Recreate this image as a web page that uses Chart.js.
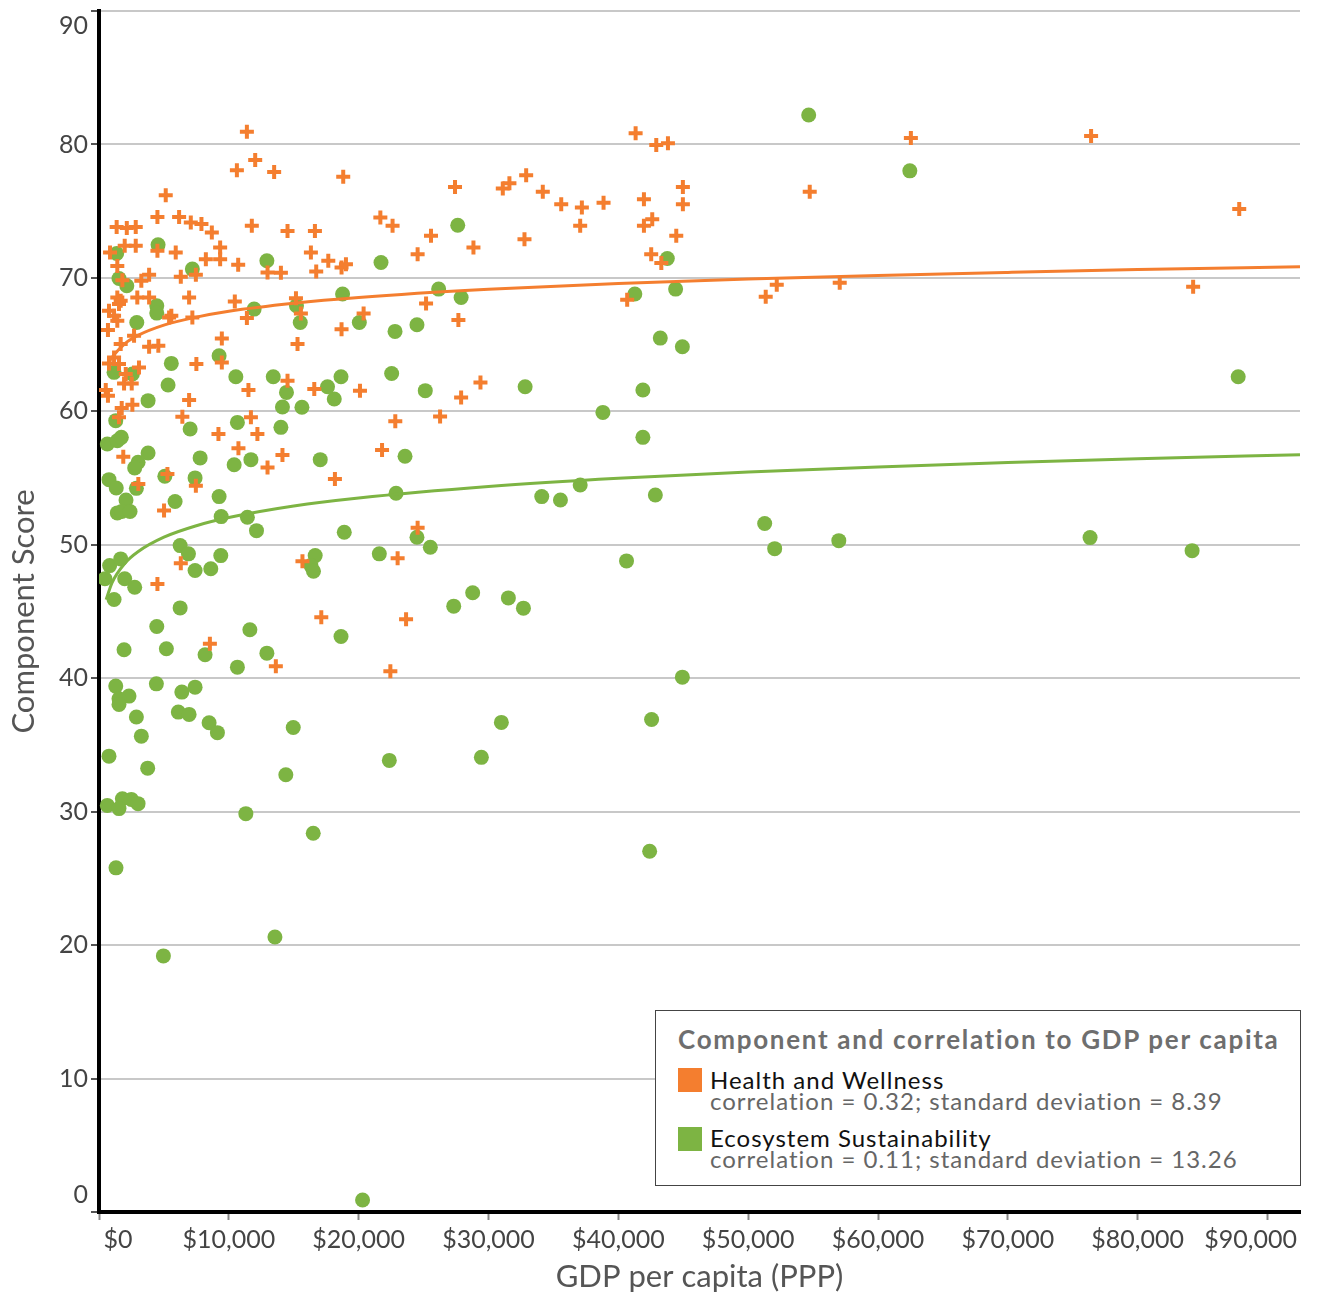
<!DOCTYPE html>
<html>
<head>
<meta charset="utf-8">
<script src="https://cdn.jsdelivr.net/npm/chart.js@4.4.1/dist/chart.umd.min.js"></script>
<style>
html,body{margin:0;padding:0;background:#fff;}
#wrap{position:relative;width:1317px;height:1296px;}
#legend{position:absolute;left:655px;top:1010px;width:646px;height:176px;border:1px solid #444;box-sizing:border-box;background:#fff;font-family:Lato,sans-serif;}
#legend div{position:absolute;white-space:nowrap;}
.lt{left:22px;top:13px;font-size:26px;font-weight:bold;color:#6e6e6e;line-height:30px;letter-spacing:1.7px;}
.sw{left:22px;width:24px;height:24px;}
.nm{left:54px;font-size:24px;color:#111;line-height:24px;letter-spacing:1px;}
.sb{left:54px;font-size:24px;color:#666;line-height:24px;letter-spacing:1px;}
</style>
</head>
<body>
<div id="wrap">
<canvas id="c" width="1317" height="1296"></canvas>
<div id="legend">
  <div class="lt">Component and correlation to GDP per capita</div>
  <div class="sw" style="top:57px;background:#F47E2F"></div>
  <div class="nm" style="top:57px">Health and Wellness</div>
  <div class="sb" style="top:78px">correlation = 0.32; standard deviation = 8.39</div>
  <div class="sw" style="top:116px;background:#7DB443"></div>
  <div class="nm" style="top:115px">Ecosystem Sustainability</div>
  <div class="sb" style="top:136px">correlation = 0.11; standard deviation = 13.26</div>
</div>
</div>
<script>
// ---- data (GDP per capita in $, component score) ----
const healthX = [11390,41330,42920,43820,62530,76410,12030,10620,13490,18810,32900,27420,31100,31610,34180,44970,54740,5140,35600,37190,38860,44970,87820,1360,2140,2830,4500,6170,7070,7890,8690,11770,14520,16630,21670,22610,41970,41970,42610,37060,32770,44460,42530,43310,25570,24540,28840,1980,2830,850,4500,5910,9330,9330,8230,1410,10720,12980,14010,6300,7460,3260,3860,1800,16320,17660,16730,18680,19020,1410,1670,2950,3860,6940,10460,770,1160,1410,1540,5570,5400,7190,11390,690,2700,9460,1670,3860,4570,770,1540,1160,3080,7500,9460,2060,1930,2520,520,690,6940,11510,14520,1750,2570,1540,6420,11700,9200,12200,10740,1870,5270,3030,7460,5010,12980,14130,6300,4500,8540,13620,15170,15550,15290,18680,20380,25190,27680,16580,20100,27890,29380,26270,22820,21800,18170,24540,23000,15670,17120,23650,22440,40680,51350,52200,57050,84270];
const healthY = [80.96,80.84,79.96,80.09,80.49,80.64,78.84,78.07,77.94,77.57,77.70,76.82,76.69,77.10,76.45,76.82,76.45,76.20,75.52,75.27,75.64,75.52,75.17,73.82,73.73,73.82,74.57,74.57,74.15,74.03,73.40,73.90,73.52,73.52,74.52,73.90,75.90,73.90,74.40,73.90,72.90,73.15,71.78,71.11,73.15,71.78,72.27,72.40,72.40,71.90,72.03,71.90,72.27,71.40,71.40,70.90,70.98,70.40,70.38,70.08,70.23,69.78,70.23,69.83,71.90,71.28,70.48,70.78,71.03,68.53,68.28,68.53,68.53,68.53,68.23,67.54,67.16,66.79,68.04,67.16,67.03,67.03,66.99,66.09,65.66,65.46,65.04,64.84,64.91,63.59,63.54,64.04,63.29,63.54,63.66,62.80,62.09,62.09,61.60,61.17,60.85,61.60,62.30,60.25,60.50,59.55,59.60,59.55,58.30,58.30,57.24,56.60,55.31,54.56,54.43,52.56,55.80,56.73,48.61,47.07,42.58,40.90,68.48,67.33,65.04,66.16,67.33,68.08,66.84,61.67,61.55,61.04,62.17,59.62,59.25,57.10,54.93,51.27,48.99,48.76,44.57,44.42,40.53,68.36,68.58,69.48,69.63,69.33];

const ecoX = [54660,62450,27630,43770,41270,44410,26160,27890,43230,44930,32820,41890,38810,41890,37060,34100,35540,42850,51270,52040,56980,76330,84190,87740,40630,31530,32690,44930,42560,30990,29450,42410,22360,28780,27320,18640,16500,14960,14390,13550,4960,20300,11310,1310,21720,18760,15210,15500,20050,22800,24490,14440,17600,18640,18120,22540,25130,14130,15630,14010,17040,23570,22880,18890,24490,25520,16650,21590,16320,16520,1360,4550,7190,12930,1540,2140,4450,4450,2910,11950,9250,5570,1160,2570,5320,10540,13420,3780,1290,7020,10660,640,1410,1720,3780,7790,10410,11700,770,1330,2880,3010,2750,5070,7400,9250,5860,2080,1410,1750,2390,9410,11430,12130,6250,6890,9380,7400,8610,820,1670,460,1980,2750,1160,6250,4450,11620,1930,5190,8170,12930,10660,1290,4420,6380,7400,2310,1540,1540,6110,6940,2880,8480,9120,3260,770,3750,640,1800,2490,3010,1540];
const ecoY = [82.21,78.02,73.95,71.45,68.79,69.16,69.16,68.53,65.49,64.84,61.84,61.60,59.92,58.05,54.48,53.61,53.36,53.73,51.59,49.71,50.31,50.54,49.56,62.59,48.79,46.02,45.25,40.08,36.91,36.69,34.07,27.03,33.84,46.40,45.40,43.13,28.38,36.31,32.77,20.61,19.19,0.90,29.85,25.79,71.15,68.79,67.91,66.66,66.66,65.99,66.49,61.42,61.84,62.59,60.92,62.84,61.55,60.33,60.31,58.80,56.38,56.63,53.86,50.94,50.56,49.81,49.19,49.32,48.44,48.02,71.83,72.48,70.66,71.28,69.95,69.41,67.91,67.36,66.66,67.66,64.17,63.59,62.92,62.80,61.97,62.59,62.59,60.80,59.30,58.68,59.17,57.55,57.80,58.05,56.88,56.51,56.00,56.38,54.88,54.26,54.23,56.18,55.76,55.13,55.01,53.61,53.24,53.36,52.39,52.49,52.49,52.11,52.06,51.06,49.94,49.32,49.19,48.07,48.20,48.44,48.94,47.45,47.45,46.82,45.90,45.27,43.88,43.63,42.13,42.21,41.76,41.88,40.83,39.41,39.58,38.96,39.33,38.66,38.46,38.04,37.46,37.29,37.09,36.66,35.92,35.66,34.16,33.26,30.47,30.97,30.92,30.60,30.23];

// trend lines
const healthTrendX = [800,1000,2000,3000,5000,7500,10000,15000,20000,30000,40000,50000,60000,70000,80000,92500];
const healthTrendY = [63.71,64.04,65.08,65.69,66.46,67.06,67.50,68.10,68.53,69.14,69.58,69.91,70.18,70.41,70.62,70.83];
const ecoTrendX = [550,1000,2000,3000,5000,7500,10000,15000,20000,30000,40000,50000,60000,70000,80000,92500];
const ecoTrendY = [45.89,47.15,48.62,49.48,50.57,51.43,52.04,52.90,53.50,54.36,54.98,55.45,55.83,56.16,56.44,56.75];

const yTicks = [0,10,20,30,40,50,60,70,80,90];
const xTicks = [0,10000,20000,30000,40000,50000,60000,70000,80000,90000];

const ORANGE = '#F47E2F';
const GREEN = '#7DB443';
const FONT = 'Lato, sans-serif';

const pts = (xs, ys) => xs.map((x, i) => ({x: x, y: ys[i]}));

const labelPlugin = {
  id: 'customTickLabels',
  afterDraw(chart) {
    const ctx = chart.ctx;
    const ys = chart.scales.y, xs = chart.scales.x;
    ctx.save();
    ctx.fillStyle = '#444';
    ctx.font = '25px ' + FONT;
    ctx.textAlign = 'right';
    ctx.textBaseline = 'middle';
    yTicks.forEach(v => {
      let py = ys.getPixelForValue(v);
      if (v === 90) py += 15;
      if (v === 0) py -= 17;
      ctx.fillText(String(v), 88, py);
    });
    ctx.textAlign = 'center';
    xTicks.forEach(v => {
      let px = xs.getPixelForValue(v);
      if (v === 0) px += 19;
      if (v === 90000) px -= 17;
      ctx.fillText('$' + v.toLocaleString('en-US'), px, 1240);
    });
    ctx.restore();
  }
};

new Chart(document.getElementById('c'), {
  type: 'scatter',
  data: {
    datasets: [
      {label: 'Health trend', data: pts(healthTrendX, healthTrendY), showLine: true, borderColor: ORANGE, borderWidth: 3, pointRadius: 0, fill: false, cubicInterpolationMode: 'monotone'},
      {label: 'Eco trend', data: pts(ecoTrendX, ecoTrendY), showLine: true, borderColor: GREEN, borderWidth: 3, pointRadius: 0, fill: false, cubicInterpolationMode: 'monotone'},
      {label: 'Health and Wellness', data: pts(healthX, healthY), pointStyle: 'cross', pointRadius: 7, borderWidth: 4, borderColor: ORANGE, backgroundColor: ORANGE},
      {label: 'Ecosystem Sustainability', data: pts(ecoX, ecoY), pointStyle: 'circle', pointRadius: 7.5, borderWidth: 0, backgroundColor: GREEN}
    ]
  },
  options: {
    responsive: false,
    animation: false,
    events: [],
    layout: {padding: {top: 10, right: 17, left: 0, bottom: 0}},
    plugins: {legend: {display: false}, tooltip: {enabled: false}},
    scales: {
      x: {
        type: 'linear', min: 0, max: 92500,
        afterBuildTicks: s => { s.ticks = xTicks.map(v => ({value: v})); },
        afterFit: s => { s.height = 84; },
        ticks: {color: 'rgba(0,0,0,0)', font: {size: 1, family: FONT}, padding: 0},
        grid: {display: true, drawOnChartArea: false, drawTicks: true, tickLength: 8, tickColor: '#888', tickWidth: 2},
        border: {display: true, color: '#000', width: 4},
        title: {display: true, text: 'GDP per capita (PPP)', color: '#555', font: {size: 31, family: FONT}, padding: {top: 0, bottom: 0}}
      },
      y: {
        type: 'linear', min: 0, max: 90,
        afterBuildTicks: s => { s.ticks = yTicks.map(v => ({value: v})); },
        afterFit: s => { s.width = 99; },
        ticks: {color: 'rgba(0,0,0,0)', font: {size: 1, family: FONT}, padding: 0},
        grid: {color: '#c8c8c8', lineWidth: 2, drawTicks: true, tickLength: 8, tickColor: '#555', tickWidth: 2},
        border: {display: true, color: '#000', width: 4},
        title: {display: true, text: 'Component Score', color: '#555', font: {size: 31, family: FONT}, padding: {top: 5, bottom: 0}}
      }
    }
  },
  plugins: [labelPlugin]
});
</script>
</body>
</html>
